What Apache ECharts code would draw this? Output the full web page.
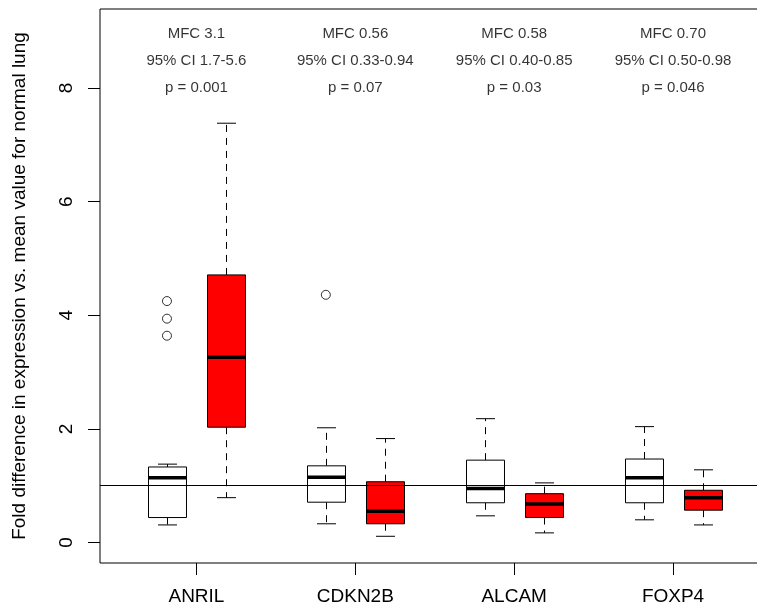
<!DOCTYPE html>
<html>
<head>
<meta charset="utf-8">
<script src="https://cdn.jsdelivr.net/npm/echarts@6/dist/echarts.min.js"></script>
<style>html,body{margin:0;padding:0;background:#fff}#c{width:757px;height:609px}</style>
</head>
<body>
<div id="c"></div>
<script>
// ---- data ----
const genes = ['ANRIL', 'CDKN2B', 'ALCAM', 'FOXP4'];
// [lower whisker, Q1, median, Q3, upper whisker]
const normalStats = [
  [0.31, 0.44, 1.14, 1.33, 1.38],
  [0.33, 0.71, 1.15, 1.35, 2.02],
  [0.47, 0.70, 0.95, 1.45, 2.18],
  [0.40, 0.70, 1.14, 1.47, 2.04]
];
const tumourStats = [
  [0.79, 2.03, 3.26, 4.71, 7.38],
  [0.11, 0.33, 0.55, 1.07, 1.83],
  [0.17, 0.44, 0.68, 0.86, 1.05],
  [0.31, 0.57, 0.79, 0.92, 1.28]
];
// outliers: [gene index, value]
const normalOutliers = [[0, 4.25], [0, 3.94], [0, 3.64], [1, 4.36]];
const tumourOutliers = [];
const mfcText = ['MFC 3.1', 'MFC 0.56', 'MFC 0.58', 'MFC 0.70'];
const ciText = ['95% CI 1.7-5.6', '95% CI 0.33-0.94', '95% CI 0.40-0.85', '95% CI 0.50-0.98'];
const pText = ['p = 0.001', 'p = 0.07', 'p = 0.03', 'p = 0.046'];
const annotationY = [8.95, 8.48, 8.0];
const yTicks = [0, 2, 4, 6, 8];
const refValue = 1;

// ---- layout constants ----
const OFFSET = 0.1855;   // box offset from group centre (axis units)
const BOXW = 0.239;      // box width (axis units)
const FONT = "'Liberation Sans', Arial, Helvetica, sans-serif";

function boxData(stats, sign) {
  return stats.map((s, i) => [i + 1 + sign * OFFSET].concat(s));
}
function outlierData(list, sign) {
  return list.map(o => [o[0] + 1 + sign * OFFSET, o[1]]);
}

function makeRender(fill) {
  return function (params, api) {
    const x = api.value(0);
    const lo = api.coord([x, api.value(1)]);
    const q1 = api.coord([x, api.value(2)]);
    const md = api.coord([x, api.value(3)]);
    const q3 = api.coord([x, api.value(4)]);
    const hi = api.coord([x, api.value(5)]);
    const w = api.size([BOXW, 0])[0];
    const cx = Math.round(lo[0]) + 0.5;
    const half = w / 2, cap = w / 4;
    const dashStyle = {stroke: '#000', lineWidth: 1, lineDash: [7, 6], fill: null};
    const solid = {stroke: '#000', lineWidth: 1, fill: null};
    return {
      type: 'group',
      children: [
        {type: 'line', shape: {x1: cx, y1: q3[1], x2: cx, y2: hi[1]}, style: dashStyle},
        {type: 'line', shape: {x1: cx, y1: q1[1], x2: cx, y2: lo[1]}, style: dashStyle},
        {type: 'line', shape: {x1: cx - cap, y1: hi[1], x2: cx + cap, y2: hi[1]}, style: solid},
        {type: 'line', shape: {x1: cx - cap, y1: lo[1], x2: cx + cap, y2: lo[1]}, style: solid},
        {type: 'rect', shape: {x: cx - half, y: q3[1], width: w, height: q1[1] - q3[1]},
          style: {fill: fill, stroke: '#000', lineWidth: 1}},
        {type: 'line', shape: {x1: cx - half, y1: md[1], x2: cx + half, y2: md[1]},
          style: {stroke: '#000', lineWidth: 3.5}}
      ]
    };
  };
}

const annData = [];
genes.forEach((g, i) => {
  annData.push([i + 1, annotationY[0], mfcText[i]]);
  annData.push([i + 1, annotationY[1], ciText[i]]);
  annData.push([i + 1, annotationY[2], pText[i]]);
});

const chart = echarts.init(document.getElementById('c'), null, {renderer: 'canvas'});
chart.setOption({
  animation: false,
  backgroundColor: '#fff',
  grid: {left: 100, top: 9, width: 669, height: 554, containLabel: false, outerBoundsMode: 'none',
    show: true, borderColor: '#000', borderWidth: 1, backgroundColor: 'transparent'},
  xAxis: {
    type: 'value', min: 0.393, max: 4.604,
    splitLine: {show: false},
    axisLine: {show: false, onZero: false},
    axisTick: {show: true, length: 12, customValues: [1, 2, 3, 4], lineStyle: {color: '#000'}},
    axisLabel: {customValues: [1, 2, 3, 4], formatter: v => genes[Math.round(v) - 1] || '',
      color: '#000', fontSize: 19, fontFamily: FONT, margin: 24}
  },
  yAxis: {
    type: 'value', min: -0.36, max: 9.39,
    splitLine: {show: false},
    axisLine: {show: false, onZero: false},
    axisTick: {show: true, length: 12, customValues: yTicks, lineStyle: {color: '#000'}},
    axisLabel: {customValues: yTicks, rotate: 90, color: '#000', fontSize: 19, fontFamily: FONT, margin: 24},
    name: 'Fold difference in expression vs. mean value for normal lung',
    nameLocation: 'middle', nameRotate: 90, nameGap: 71,
    nameTextStyle: {color: '#000', fontSize: 19, fontFamily: FONT}
  },
  series: [
    {
      type: 'custom', name: 'normal', renderItem: makeRender('#ffffff'),
      data: boxData(normalStats, -1), encode: {x: 0, y: [1, 2, 3, 4, 5]}, clip: false,
      markLine: {silent: true, symbol: 'none', label: {show: false},
        lineStyle: {color: '#000', width: 1, type: 'solid'}, data: [{yAxis: refValue}]}
    },
    {
      type: 'custom', name: 'tumour', renderItem: makeRender('#ff0000'),
      data: boxData(tumourStats, 1), encode: {x: 0, y: [1, 2, 3, 4, 5]}, clip: false
    },
    {
      type: 'scatter', name: 'outliers', symbol: 'circle', symbolSize: 9,
      data: outlierData(normalOutliers, -1).concat(outlierData(tumourOutliers, 1)),
      itemStyle: {color: '#fff', borderColor: '#000', borderWidth: 1}
    },
    {
      type: 'scatter', name: 'annotations', symbolSize: 0, silent: true,
      data: annData,
      label: {show: true, position: 'inside', formatter: p => p.data[2],
        color: '#000', fontSize: 15, fontFamily: FONT}
    }
  ]
});
</script>
</body>
</html>
